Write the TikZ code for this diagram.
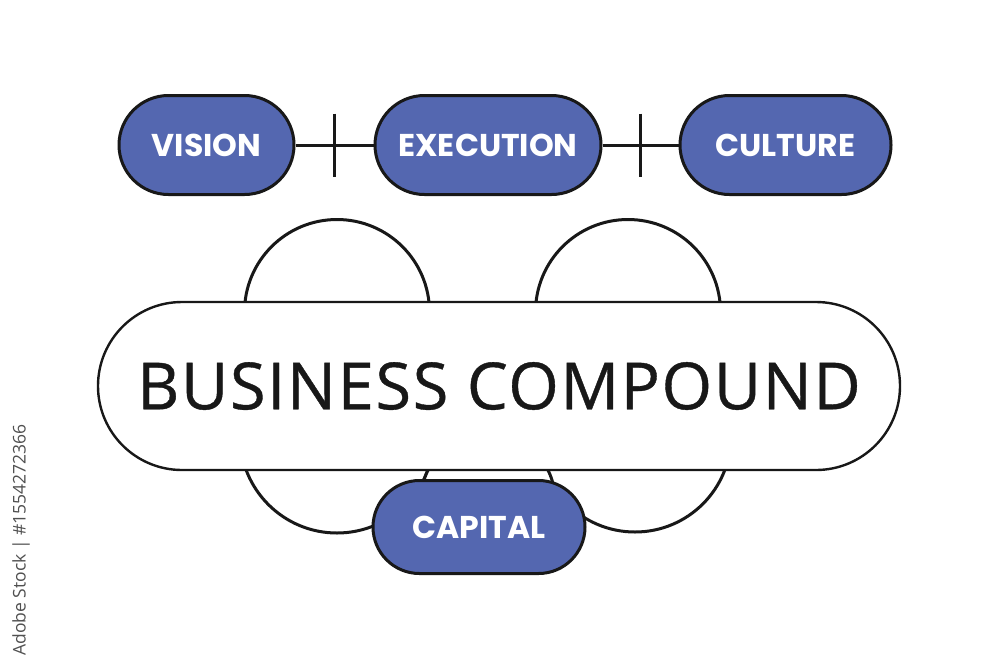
\documentclass[tikz,border=0pt]{standalone}
\usepackage{fontspec}
\setmainfont{Open Sans}
\newfontfamily\popfont{Poppins}
\newfontfamily\bigfont[FakeBold=0.6,LetterSpace=2.5]{Open Sans}
\usetikzlibrary{calc}
\definecolor{pillblue}{RGB}{84,103,176}
\definecolor{inkc}{RGB}{24,24,24}
\definecolor{wmgray}{RGB}{80,80,80}
\begin{document}
\begin{tikzpicture}[x=1pt,y=-1pt,
  pill/.style={draw=inkc, line width=3pt, fill=pillblue, inner sep=0pt,
    text=white, font=\popfont\bfseries\fontsize{31.5}{31.5}\selectfont},
  circ/.style={draw=inkc, line width=3pt, fill=white, circle, inner sep=0pt},
  link/.style={draw=inkc, line width=3pt},
  bigpill/.style={draw=inkc, line width=2.4pt, fill=white, inner sep=0pt,
    text=inkc, font=\bigfont\fontsize{65}{65}\selectfont}
]
\useasboundingbox[fill=white] (0,0) rectangle (1000,667);

% circles behind the main pill
\node[circ, minimum size=185] (ctl) at (337,312) {};
\node[circ, minimum size=185] (ctr) at (628,312) {};
\node[circ, minimum size=194] (cbl) at (337,436) {};
\node[circ, minimum size=192] (cbr) at (635,436) {};
\node[circ, minimum size=134] (cbm) at (488,500) {};

% main pill
\node[bigpill, minimum width=802, minimum height=168, rounded corners=84] (bc) at (499,386) {BUSINESS COMPOUND};

% bottom pill
\node[pill, minimum width=212, minimum height=93, rounded corners=46.5] (capital) at (479,527) {CAPITAL};

% top pills
\node[pill, minimum width=175, minimum height=99, rounded corners=49.5] (vision) at (206.5,145) {VISION};
\node[pill, minimum width=226, minimum height=99, rounded corners=49.5] (execution) at (488,145) {EXECUTION};
\node[pill, minimum width=211, minimum height=99, rounded corners=49.5] (culture) at (785.5,145) {CULTURE};

% connectors with ticks
\draw[link] (vision.east) -- (execution.west);
\draw[link] (execution.east) -- (culture.west);
\coordinate (t1) at ($(vision.east)!0.5!(execution.west)$);
\coordinate (t2) at ($(execution.east)!0.5!(culture.west)$);
\draw[link] ($(t1)+(0,-31.5)$) -- ($(t1)+(0,31.5)$);
\draw[link] ($(t2)+(0,-31.5)$) -- ($(t2)+(0,31.5)$);

% side credit text
\node[rotate=90, text=wmgray, inner sep=0pt, font=\fontsize{17.5}{17.5}\selectfont] (wm) at (21,540) {Adobe Stock | \#1554272366};
\end{tikzpicture}
\end{document}
